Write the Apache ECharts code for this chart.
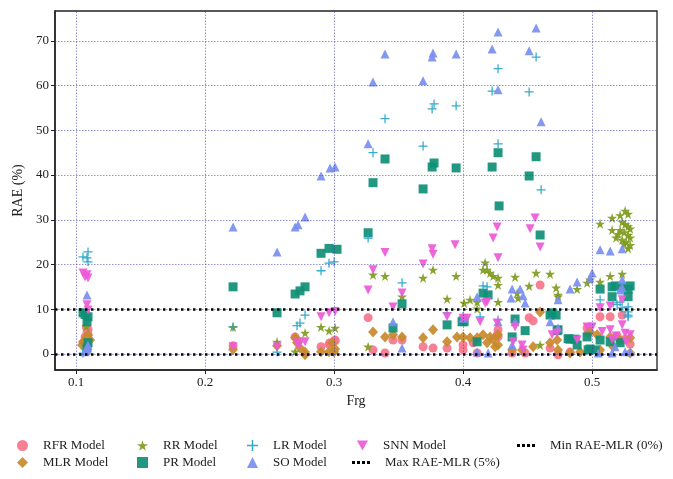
<!DOCTYPE html>
<html>
<head>
<meta charset="utf-8">
<script src="https://cdn.jsdelivr.net/npm/echarts@6.0.0/dist/echarts.min.js"></script>
<style>
  html, body { margin: 0; padding: 0; background: #fff; }
  #main { width: 673px; height: 479px; }
</style>
</head>
<body>
<div id="main"></div>
<script>
// axis ranges + tick values
var xRange = [0.0837, 0.5503];
var yRange = [-3.6, 76.7];
var xTicks = [0.1, 0.2, 0.3, 0.4, 0.5];
var yTicks = [0, 10, 20, 30, 40, 50, 60, 70];
var baseLines = [0, 10]; // Min / Max RAE-MLR

// [Frg, RAE] per model
var rfrData = [
  [0.1085,4.9],[0.107,3.8],[0.1093,4.3],[0.108,6.0],[0.1093,5.5],
  [0.2217,1.8],[0.2698,3.8],[0.2721,2.9],[0.2899,1.6],[0.2961,2.2],[0.3008,2.9],
  [0.2969,2.5],[0.3008,3.1],[0.3264,8.1],[0.3302,0.9],[0.3395,0.2],[0.3457,3.1],[0.3527,3.1],
  [0.3690,1.6],[0.3767,1.3],[0.3876,1.3],[0.4,2.0],[0.4078,2.5],[0.4109,0.2],[0.4,0.9],
  [0.4271,5.4],[0.4264,4.3],[0.4271,3.8],[0.4380,0.2],[0.4481,0.2],[0.4512,8.1],[0.4543,7.4],
  [0.4597,15.4],[0.4674,1.3],[0.4829,0.4],[0.4736,-0.2],[0.4961,5.8],[0.4969,4.7],
  [0.5062,8.3],[0.5140,8.3],[0.5233,8.7],[0.5194,4.0],[0.5256,3.3],[0.5295,2.2]
];
var mlrData = [
  [0.1054,2.7],[0.1085,3.8],[0.1109,3.1],[0.1046,2.0],[0.1093,4.2],
  [0.2217,1.0],[0.2558,1.8],[0.2698,3.6],[0.2736,1.3],[0.2775,-0.2],[0.2775,0.4],[0.2713,2.5],
  [0.2899,0.5],[0.2961,0.5],[0.3008,1.1],[0.2984,2.5],[0.3,0.5],
  [0.3302,4.9],[0.3395,3.8],[0.3457,4.3],[0.3527,3.8],[0.3690,3.6],[0.3767,5.4],[0.3876,2.7],
  [0.3953,3.8],[0.4,3.8],[0.4054,3.6],[0.4109,3.6],[0.4155,4.3],[0.4209,3.8],[0.4271,4.3],
  [0.4271,2.0],[0.4186,2.5],[0.4233,3.2],[0.4248,1.6],[0.4380,0.9],[0.4457,0.9],[0.4543,1.6],
  [0.4597,9.4],[0.4674,2.5],[0.4729,3.1],[0.4736,0.9],[0.4829,0.2],[0.4907,0.4],[0.4984,4.9],
  [0.5039,4.3],[0.5140,3.8],[0.5217,3.1],[0.5295,3.6],[0.5295,0.2],[0.5062,0.9],[0.5163,1.6]
];
var rrData = [
  [0.108,6.2],[0.2217,6.0],[0.2558,2.7],[0.2775,4.7],[0.2698,0.5],[0.2899,6.0],[0.2961,5.2],[0.3008,5.8],
  [0.3264,1.6],[0.3302,17.7],[0.3395,17.4],[0.3527,12.8],[0.3690,17.0],[0.3767,18.8],[0.3946,17.4],
  [0.3876,12.3],[0.4008,11.4],[0.4054,12.1],[0.4109,11.6],[0.4109,10.1],
  [0.4171,20.4],[0.4155,18.8],[0.4186,18.8],[0.4209,18.1],[0.4233,17.4],[0.4271,17.0],[0.4271,15.4],
  [0.4271,11.6],[0.4403,17.2],[0.4419,13.6],[0.4426,12.5],[0.4512,15.2],[0.4566,18.1],[0.4674,17.9],
  [0.4721,14.8],[0.4736,12.8],[0.4736,13.2],[0.4884,14.5],[0.4961,15.9],[0.4984,16.6],[0.4597,2.0],
  [0.5062,29.1],[0.5155,30.4],[0.5062,16.1],[0.5140,17.4],[0.5233,17.9],
  [0.5217,31.0],[0.5256,32.0],[0.5279,31.3],[0.5233,29.5],[0.5256,29.0],[0.5279,28.5],[0.5295,28.0],
  [0.5217,27.7],[0.5248,27.2],[0.5279,26.6],[0.5295,26.0],[0.5202,26.8],[0.5233,25.5],[0.5264,25.0],
  [0.5295,24.3],[0.5279,23.6],[0.5248,24.6],[0.5186,26.0],[0.5155,27.7]
];
var prData = [
  [0.1054,9.2],[0.1093,8.3],[0.1085,7.2],[0.1093,2.5],[0.1085,1.3],[0.107,8.8],
  [0.2217,15.0],[0.2558,9.2],[0.2698,13.4],[0.2736,14.1],[0.2775,15.0],[0.2899,22.5],[0.2961,23.6],[0.3023,23.4],
  [0.3264,27.1],[0.3302,38.3],[0.3395,43.6],[0.3690,36.9],[0.3760,41.8],[0.3775,42.7],[0.3946,41.6],
  [0.4225,41.8],[0.4271,45.0],[0.4279,33.1],[0.4512,39.8],[0.4566,44.1],[0.4597,26.6],
  [0.3457,5.8],[0.3527,11.2],[0.3876,6.5],[0.4008,7.2],[0.3992,7.2],[0.4155,13.6],[0.4194,13.2],
  [0.4109,2.7],[0.4403,7.8],[0.4481,5.2],[0.4380,3.8],[0.4674,8.7],[0.4721,8.7],[0.4729,5.2],
  [0.4814,3.4],[0.4884,2.0],[0.4961,3.8],[0.4984,1.1],[0.5062,3.1],[0.5140,2.7],[0.5217,2.5],
  [0.5062,14.5],[0.5155,15.0],[0.5178,15.2],[0.5233,15.0],[0.5279,14.5],[0.5295,15.2],[0.5155,12.8],
  [0.5279,12.8],[0.4690,9.2],[0.4736,5.4],[0.4829,3.3],[0.4868,3.3],[0.4969,0.9],[0.5023,0.9]
];
var lrData = [
  [0.1054,21.7],[0.1093,22.8],[0.1093,20.6],[0.1085,21.5],[0.1054,0.2],
  [0.2217,6.0],[0.2558,0.4],[0.2713,6.3],[0.2736,6.9],[0.2775,8.7],[0.2899,18.6],[0.2961,20.3],[0.3,20.6],
  [0.3264,25.9],[0.3302,45.0],[0.3395,52.6],[0.3690,46.5],[0.3775,55.9],[0.3760,54.8],[0.3946,55.5],
  [0.4225,58.8],[0.4271,63.8],[0.4271,47.0],[0.4512,58.6],[0.4566,66.4],[0.4605,36.7],
  [0.3527,15.9],[0.3876,9.2],[0.4,8.3],[0.4132,8.3],[0.4155,15.2],[0.4186,15.0],[0.4271,7.6],
  [0.5062,12.1],[0.5163,11.4],[0.5194,11.0],[0.5217,11.6],[0.5233,10.3],[0.5279,10.5],[0.5279,9.4],
  [0.5279,8.7],[0.5279,8.3]
];
var soData = [
  [0.1085,13.2],[0.1085,0.9],[0.107,0.5],[0.1093,2.0],[0.1085,1.5],
  [0.2217,28.4],[0.2558,22.8],[0.2698,28.4],[0.2721,28.9],[0.2775,30.6],[0.2899,39.8],[0.2969,41.6],[0.3008,41.8],
  [0.3264,47.0],[0.3302,60.8],[0.3395,67.1],[0.3690,61.1],[0.3767,67.3],[0.3760,66.4],[0.3946,67.1],
  [0.4225,68.2],[0.4271,72.0],[0.4271,59.1],[0.4512,67.8],[0.4566,72.9],[0.4605,51.9],
  [0.3457,7.2],[0.3527,1.3],[0.4,8.0],[0.4109,12.8],[0.4109,0.4],[0.4194,0.2],[0.4271,7.2],
  [0.4403,7.2],[0.4674,7.2],[0.4736,5.8],[0.4380,2.0],
  [0.4380,14.5],[0.4442,14.5],[0.4465,13.0],[0.4372,12.5],[0.4481,11.4],
  [0.4829,14.5],[0.4884,16.1],[0.4984,17.0],[0.5,18.1],[0.4736,12.1],
  [0.5062,23.3],[0.5140,23.0],[0.5233,23.5],[0.5233,16.6],[0.5233,14.8],[0.5217,14.3],
  [0.5047,0.2],[0.5155,0.2],[0.5256,0.5],[0.5178,1.6],[0.5295,0.5]
];
var snnData = [
  [0.1054,18.1],[0.1085,17.7],[0.1093,17.0],[0.107,17.2],[0.1085,11.0],[0.1093,9.8],
  [0.2217,1.6],[0.2558,1.6],[0.2713,2.5],[0.2729,2.0],[0.2775,2.7],[0.2899,8.3],[0.2961,9.2],[0.3008,9.5],
  [0.3264,14.3],[0.3302,18.8],[0.3395,22.7],[0.3457,10.5],[0.3527,13.6],[0.3690,20.1],[0.3760,23.5],
  [0.3767,22.3],[0.3938,24.4],[0.3876,8.3],[0.4,8.0],[0.4031,8.0],[0.4132,7.2],
  [0.4264,28.4],[0.4233,25.9],[0.4271,21.5],[0.4558,30.4],[0.4519,28.0],[0.4597,23.9],[0.4186,11.6],[0.4171,11.4],
  [0.4264,6.9],[0.4403,6.0],[0.4388,2.7],[0.4457,2.0],[0.4465,0.9],[0.4690,4.3],[0.4729,4.7],[0.4884,3.1],
  [0.5062,10.3],[0.5140,10.7],[0.5233,12.1],[0.4961,6.0],[0.5,6.0],[0.5140,5.4],[0.5233,6.5],[0.5295,4.3],
  [0.5078,5.0],[0.5186,4.0],[0.5256,4.6],[0.5155,3.2],[0.5264,2.8]
];

var font = 'Liberation Serif';
var starPath = 'path://M50,0 L61,35 L98,35 L68,57 L79,91 L50,70 L21,91 L32,57 L2,35 L39,35 Z';
var plusPath = 'path://M0,43H100V57H0Z M43,0H57V100H43Z';
var downTri = 'path://M0,0 L100,0 L50,90 Z';
var dotsIcon = 'path://M0,0h3v3h-3z M5,0h3v3h-3z M10,0h3v3h-3z M15,0h3v3h-3z';

function scatter(name, data, symbol, size, color) {
  return {
    name: name,
    type: 'scatter',
    data: data,
    symbol: symbol,
    symbolSize: size,
    z: 3,
    itemStyle: { color: color, opacity: 0.92 }
  };
}

function baseLine(name, value) {
  return {
    name: name,
    type: 'line',
    data: [],
    symbol: 'none',
    z: 4,
    lineStyle: { color: '#000', type: 'dotted', width: 2.5 },
    itemStyle: { color: '#000' },
    markLine: {
      silent: true,
      symbol: 'none',
      label: { show: false },
      lineStyle: { color: '#000', type: [2.5, 3.5], width: 2.5 },
      data: [{ yAxis: value }]
    }
  };
}

var gridLines = {
  name: 'gridlines',
  type: 'line',
  data: [],
  z: 1,
  markLine: {
    silent: true,
    symbol: 'none',
    label: { show: false },
    lineStyle: { color: '#3a3ab0', type: [1.5, 1.5], width: 1, opacity: 0.55 },
    data: xTicks.map(function (v) { return { xAxis: v }; })
      .concat(yTicks.map(function (v) { return { yAxis: v }; }))
  }
};

var legendText = { fontFamily: font, fontSize: 13, color: '#222', padding: [0, 0, 0, 10] };
// one legend per column, markers kept square
function legendCol(left, top, names, icon, w, h) {
  return {
    orient: 'vertical',
    left: left,
    top: top,
    padding: 0,
    itemWidth: w || 11,
    itemHeight: h || 11,
    itemGap: 4,
    icon: icon,
    textStyle: legendText,
    data: names
  };
}

var myChart = echarts.init(document.getElementById('main'));
myChart.setOption({
  backgroundColor: '#fff',
  animation: false,
  grid: {
    left: 55, right: 16, top: 11, bottom: 109,
    show: true, borderColor: '#222', borderWidth: 1.3
  },
  legend: [
    legendCol(17, 439, ['RFR Model', 'MLR Model']),
    legendCol(137, 439, ['RR Model', 'PR Model']),
    legendCol(247, 439, ['LR Model', 'SO Model']),
    legendCol(357, 439, ['SNN Model'], downTri),
    legendCol(352, 456, ['Max RAE-MLR (5%)'], dotsIcon, 18, 3),
    legendCol(517, 439, ['Min RAE-MLR (0%)'], dotsIcon, 18, 3)
  ],
  xAxis: {
    type: 'value',
    min: xRange[0],
    max: xRange[1],
    name: 'Frg',
    nameLocation: 'middle',
    nameGap: 22,
    nameTextStyle: { fontFamily: font, fontSize: 14, color: '#222' },
    axisLine: { onZero: false, lineStyle: { color: '#222', width: 1.5 } },
    axisTick: { customValues: xTicks, length: 4, lineStyle: { color: '#222' } },
    axisLabel: { customValues: xTicks, fontFamily: font, fontSize: 13, color: '#222', margin: 6 },
    splitLine: { show: false }
  },
  yAxis: {
    type: 'value',
    min: yRange[0],
    max: yRange[1],
    name: 'RAE (%)',
    nameLocation: 'middle',
    nameGap: 30,
    nameTextStyle: { fontFamily: font, fontSize: 14, color: '#222' },
    axisLine: { show: true, onZero: false, lineStyle: { color: '#222', width: 1.5 } },
    axisTick: { show: true, customValues: yTicks, length: 4, lineStyle: { color: '#222' } },
    axisLabel: { customValues: yTicks, fontFamily: font, fontSize: 13, color: '#222', margin: 6 },
    splitLine: { show: false }
  },
  series: [
    gridLines,
    scatter('RFR Model', rfrData, 'circle', 9, '#f7758c'),
    scatter('MLR Model', mlrData, 'diamond', [10, 11], '#c8892b'),
    scatter('RR Model', rrData, starPath, 10, '#7f9b1e'),
    scatter('PR Model', prData, 'rect', 9, '#0f8f76'),
    scatter('LR Model', lrData, plusPath, 9, '#25a4c9'),
    scatter('SO Model', soData, 'triangle', 9, '#7a8ef0'),
    scatter('SNN Model', snnData, downTri, 9, '#ec5ad8'),
    baseLine('Max RAE-MLR (5%)', baseLines[1]),
    baseLine('Min RAE-MLR (0%)', baseLines[0])
  ]
});
</script>
</body>
</html>
